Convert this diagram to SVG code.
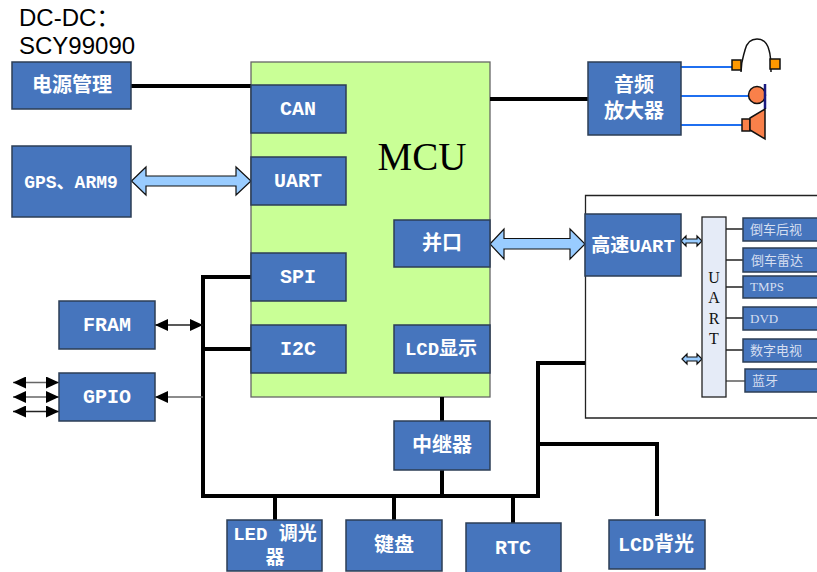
<svg xmlns="http://www.w3.org/2000/svg" width="817" height="572" viewBox="0 0 817 572">
<style>
.b{fill:#4675bd;stroke:#2c3e55;stroke-width:1.5}
.t{font-family:"Liberation Mono","Noto Sans CJK SC",monospace;font-weight:700;font-size:20px;fill:#fff;text-anchor:middle}
.s{font-family:"Liberation Serif","Noto Sans CJK SC",serif;font-size:13px;fill:#d5def0}
.k{fill:none;stroke:#000;stroke-width:4;stroke-linejoin:miter}
.n{fill:none;stroke:#222;stroke-width:1.3}
.g{fill:none;stroke:#666;stroke-width:1.3}
.u{fill:none;stroke:#1f6ff0;stroke-width:2}
.a{fill:#99ccff;stroke:#111;stroke-width:1.2}
.o{fill:#ff9900;stroke:#111;stroke-width:1.5}
.c{fill:#f9804a;stroke:#111;stroke-width:1.5}
</style>
<defs>
<marker id="ah" viewBox="0 0 13 12" refX="13" refY="6" markerWidth="13" markerHeight="12" markerUnits="userSpaceOnUse" orient="auto-start-reverse"><path d="M0 0L13 6L0 12Z" fill="#000"/></marker>
</defs>
<text x="19" y="26" font-family="Liberation Sans, Noto Sans CJK SC, sans-serif" font-size="24" fill="#000">DC-DC：</text>
<text x="19" y="54" font-family="Liberation Sans, Noto Sans CJK SC, sans-serif" font-size="24" fill="#000">SCY99090</text>
<g id="panel"><path d="M817 195.500H585.500V418H817" fill="#fff" stroke="#222" stroke-width="1.300"/></g>
<g id="mcu"><rect x="251" y="62" width="239" height="335" fill="#c9ff96" stroke="#666" stroke-width="1.300"/><text x="422" y="170" text-anchor="middle" font-family="Liberation Serif, serif" font-size="39" fill="#000">MCU</text></g>
<g id="connectors">
<path class="k" d="M131 86H251M490 99H588M251 277H203V496H538V363H585M203 349H251M442 397V421M442 470V496M275 496V520M394 496V520M513 496V523M538 444H657V516"/>
<path class="n" d="M155 325H203" marker-start="url(#ah)" marker-end="url(#ah)"/>
<path class="g" d="M203 397H155" marker-end="url(#ah)"/>
<path class="g" d="M13 382.500H59" marker-start="url(#ah)" marker-end="url(#ah)"/>
<path class="g" d="M13 397H59" marker-start="url(#ah)" marker-end="url(#ah)"/>
<path class="n" d="M13 411.500H59" marker-start="url(#ah)" marker-end="url(#ah)"/>
<path class="a" d="M131.500 181L146 167V176H236V167L251 181L236 195V186H146V195Z"/>
<path class="a" d="M490 244L504 229V238.500H570V229L585 244L570 259V249H504V259Z"/>
<path class="a" d="M681 241L686 236V239H697V236L702 241L697 246V243H686V246Z"/>
<path class="a" d="M682 359L687 354V357H697V354L702 359L697 364V361H687V364Z"/>
<path class="n" d="M726 229H743M726 260H743M726 287H743M726 318H743M726 350H743"/>
<path d="M726 381H745" fill="none" stroke="#777" stroke-width="1.800"/>
<path class="u" d="M681 67H735M681 96H750M681 125H742"/>
</g>
<g id="power"><rect class="b" x="12" y="62" width="119" height="47"/><text class="t" x="72" y="92">电源管理</text></g>
<g id="gps"><rect class="b" x="12" y="146" width="119" height="71"/><text class="t" x="71" y="188" font-size="18" style="font-size:18px">GPS、ARM9</text></g>
<g id="can"><rect class="b" x="251" y="85" width="95" height="48"/><text class="t" x="298" y="115">CAN</text></g>
<g id="uart"><rect class="b" x="251" y="157" width="95" height="48"/><text class="t" x="298" y="187">UART</text></g>
<g id="spi"><rect class="b" x="251" y="253" width="95" height="48"/><text class="t" x="298" y="283">SPI</text></g>
<g id="i2c"><rect class="b" x="251" y="325" width="95" height="48"/><text class="t" x="298" y="355">I2C</text></g>
<g id="parallel"><rect class="b" x="394" y="220" width="96" height="47"/><text class="t" x="442" y="250">并口</text></g>
<g id="lcd"><rect class="b" x="394" y="325" width="96" height="48"/><text class="t" x="441" y="355" style="font-size:19px">LCD显示</text></g>
<g id="fram"><rect class="b" x="59" y="301" width="96" height="48"/><text class="t" x="107" y="331">FRAM</text></g>
<g id="gpio"><rect class="b" x="59" y="373" width="96" height="48"/><text class="t" x="107" y="403">GPIO</text></g>
<g id="relay"><rect class="b" x="394" y="421" width="96" height="49"/><text class="t" x="442" y="452">中继器</text></g>
<g id="led"><rect class="b" x="227" y="520" width="95" height="51"/><text class="t" x="275" y="540" style="font-size:19px">LED 调光</text><text class="t" x="275" y="564" style="font-size:19px">器</text></g>
<g id="keys"><rect class="b" x="346" y="520" width="96" height="51"/><text class="t" x="394" y="552">键盘</text></g>
<g id="rtc"><rect class="b" x="466" y="523" width="95" height="50"/><text class="t" x="513" y="554">RTC</text></g>
<g id="backlight"><rect class="b" x="609" y="520" width="96" height="49"/><text class="t" x="656" y="551">LCD背光</text></g>
<g id="amp"><rect class="b" x="588" y="62" width="93" height="73"/><text class="t" x="634" y="92">音频</text><text class="t" x="634" y="118">放大器</text></g>
<g id="hsuart"><rect class="b" x="585" y="214" width="96" height="62"/><text class="t" x="633" y="252" style="font-size:19px">高速UART</text></g>
<g id="uartbar"><rect x="702" y="217" width="24" height="180" fill="#e5ebf7" stroke="#222" stroke-width="1.300"/>
<g font-family="Liberation Serif, serif" font-size="16" fill="#111" text-anchor="middle"><text x="714" y="283">U</text><text x="714" y="303">A</text><text x="714" y="324">R</text><text x="714" y="344">T</text></g></g>
<g id="s1"><rect class="b" x="743" y="218" width="76" height="23"/><text class="s" x="750" y="234">倒车后视</text></g>
<g id="s2"><rect class="b" x="743" y="248" width="76" height="24"/><text class="s" x="751" y="265">倒车雷达</text></g>
<g id="s3"><rect class="b" x="743" y="276" width="76" height="22"/><text class="s" x="750" y="291">TMPS</text></g>
<g id="s4"><rect class="b" x="743" y="307" width="76" height="23"/><text class="s" x="750" y="323">DVD</text></g>
<g id="s5"><rect class="b" x="743" y="339" width="76" height="23"/><text class="s" x="750" y="355">数字电视</text></g>
<g id="s6"><rect class="b" x="745" y="369" width="76" height="23"/><text class="s" x="752" y="385">蓝牙</text></g>
<g id="headphones"><path d="M741 72C741 60 744 55 745 50C747 42 752 39 757 39C763 39 767 42 769 50C771 56 771 62 771 72" fill="none" stroke="#111" stroke-width="1.500"/><rect class="o" x="732" y="60" width="9" height="10"/><rect class="o" x="770" y="59" width="10" height="10"/></g>
<g id="mic"><circle cx="757" cy="95" r="8.500" fill="#f9804a" stroke="#111" stroke-width="1.500"/><path d="M765 84V109" stroke="#1a1a80" stroke-width="2.500" fill="none"/></g>
<g id="speaker"><rect class="c" x="742" y="119" width="8" height="12"/><path class="c" d="M750 118L765 109V139L750 130Z"/></g>
</svg>
